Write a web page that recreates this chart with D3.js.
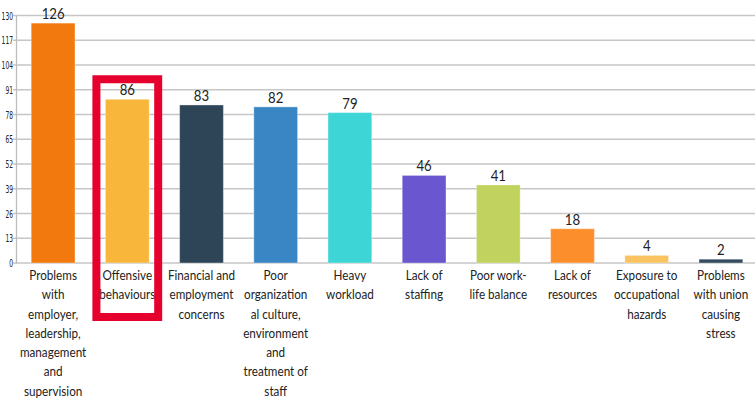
<!DOCTYPE html>
<html><head><meta charset="utf-8">
<script src="https://cdn.jsdelivr.net/npm/d3@7"></script>
<style>
body{margin:0;background:#fff;}
text{font-family:Lato,"Open Sans",sans-serif;fill:#222;}
.tick text{font-family:"DejaVu Sans Condensed","DejaVu Sans",sans-serif;}
</style></head>
<body><svg id="c" width="755" height="400"></svg>
<script>
const categories = [
  ["Problems","with","employer,","leadership,","management","and","supervision"],
  ["Offensive","behaviours"],
  ["Financial and","employment","concerns"],
  ["Poor","organization","al culture,","environment","and","treatment of","staff"],
  ["Heavy","workload"],
  ["Lack of","staffing"],
  ["Poor work-","life balance"],
  ["Lack of","resources"],
  ["Exposure to","occupational","hazards"],
  ["Problems","with union","causing","stress"]
];
const values = [126, 86, 83, 82, 79, 46, 41, 18, 4, 2];
const colors = ["#F2790D","#F8B73B","#2E4558","#3A86C5","#3ED5D7","#6A56CF","#C1D25E","#FC8F2C","#F9C35F","#354B5F"];
const yTicks = [0,13,26,39,52,65,78,91,104,117,130];
const highlightIndex = 1;

const svg = d3.select("#c");
const x = d3.scaleBand().domain(d3.range(values.length)).range([16, 758]).paddingInner(0.41).paddingOuter(0.205);
const y = d3.scaleLinear().domain([0,130]).range([263, 15.5]);

// grid
svg.append("g").selectAll("line").data(yTicks).join("line")
  .attr("x1", 13).attr("x2", 755)
  .attr("y1", d => y(d)).attr("y2", d => y(d))
  .attr("stroke", "#c6c6c6").attr("stroke-width", 1.3);

// axis
const ax = svg.append("g").attr("transform","translate(16,0)")
  .call(d3.axisLeft(y).tickValues(yTicks).tickSize(0).tickPadding(3));
ax.select(".domain").attr("stroke","#bdbdbd").attr("stroke-width",1.3);
ax.selectAll(".tick text").attr("font-size", 11).attr("fill","#333")
  .attr("textLength", d => String(d).length * 3.8)
  .attr("lengthAdjust", "spacingAndGlyphs");

// bars
svg.append("g").selectAll("rect").data(values).join("rect")
  .attr("x", (d,i) => x(i)).attr("width", x.bandwidth())
  .attr("y", d => y(d)).attr("height", d => y(0) - y(d))
  .attr("fill", (d,i) => colors[i])
  .attr("stroke", "rgba(255,255,255,0.35)").attr("stroke-width", 1);

// value labels
svg.append("g").selectAll("text").data(values).join("text")
  .attr("transform", (d,i) => `translate(${x(i) + x.bandwidth()/2},${y(d) - 4}) scale(0.88,1)`)
  .attr("text-anchor","middle").attr("font-size", 15).attr("fill","#222")
  .text(d => d);

// category labels
const lab = svg.append("g").selectAll("text").data(categories).join("text")
  .attr("transform", (d,i) => `translate(${x(i) + x.bandwidth()/2},280) scale(0.88,1)`)
  .attr("text-anchor","middle").attr("font-size", 13.3).attr("fill","#222");
lab.selectAll("tspan").data(d => d).join("tspan")
  .attr("x", 0)
  .attr("dy", (d,j) => j === 0 ? 0 : 19.3)
  .text(d => d);

// highlight box
const hx = x(highlightIndex);
svg.append("rect")
  .attr("x", hx - 9).attr("width", x.bandwidth() + 18)
  .attr("y", y(values[highlightIndex]) - 20).attr("height", 317 - (y(values[highlightIndex]) - 20))
  .attr("fill","none").attr("stroke","#E6002D").attr("stroke-width", 8);
</script></body></html>
